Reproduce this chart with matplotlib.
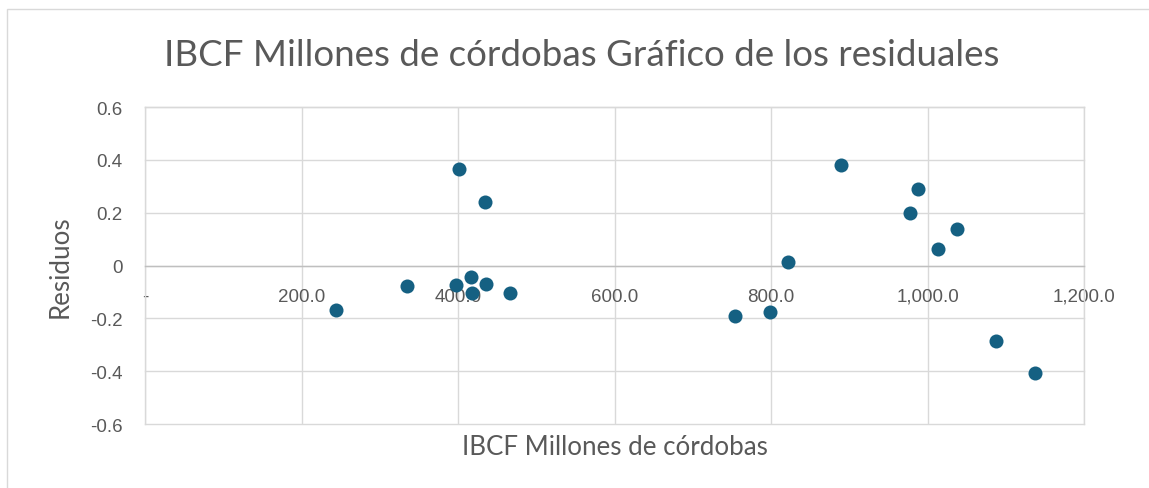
import matplotlib
matplotlib.use("Agg")
import matplotlib.pyplot as plt
from matplotlib.patches import Rectangle

# Data
ibcf = [244.7, 334.9, 401.2, 397.4, 416.0, 417.3, 434.8, 436.4, 466.3,
        753.4, 798.4, 822.3, 889.9, 977.9, 987.6, 1013.6, 1037.9, 1087.6, 1137.4]
residuos = [-0.170, -0.079, 0.366, -0.072, -0.042, -0.103, 0.242, -0.071, -0.104,
            -0.192, -0.177, 0.015, 0.380, 0.199, 0.291, 0.062, 0.138, -0.287, -0.407]
x_ticks = [0, 200, 400, 600, 800, 1000, 1200]
x_ticklabels = ["-", "200.0", "400.0", "600.0", "800.0", "1,000.0", "1,200.0"]
y_ticks = [-0.6, -0.4, -0.2, 0, 0.2, 0.4, 0.6]
y_ticklabels = ["-0.6", "-0.4", "-0.2", "0", "0.2", "0.4", "0.6"]

title = "IBCF Millones de córdobas Gráfico de los residuales"
xlabel = "IBCF Millones de córdobas"
ylabel = "Residuos"

W, H = 1149, 489
fig = plt.figure(figsize=(W / 100, H / 100), dpi=100)
fig.patch.set_facecolor("white")

L, R, T, B = 145, 1084, 108, 425
ax = fig.add_axes([L / W, 1 - B / H, (R - L) / W, (B - T) / H])

grid_c = "#D9D9D9"
text_c = "#595959"
label_font = "Lato"
tick_font = "Liberation Sans"

ax.scatter(ibcf, residuos, s=102, color="#156082", zorder=3, linewidths=0)

ax.set_xlim(0, 1200)
ax.set_ylim(-0.6, 0.6)
ax.set_xticks(x_ticks)
ax.set_xticklabels(x_ticklabels)
ax.set_yticks(y_ticks)
ax.set_yticklabels(y_ticklabels)

ax.grid(True, color=grid_c, linewidth=1.0)
ax.set_axisbelow(True)
for gl in ax.xaxis.get_gridlines() + ax.yaxis.get_gridlines():
    gl.set_clip_on(False)

for s in ["top", "right", "left"]:
    ax.spines[s].set_color(grid_c)
    ax.spines[s].set_linewidth(1.0)
ax.spines["bottom"].set_position(("data", 0))
ax.spines["bottom"].set_color("#BFBFBF")
ax.spines["bottom"].set_linewidth(1.0)

ax.tick_params(axis="both", length=0, labelsize=13.5, labelcolor=text_c, pad=16)
for lab in ax.get_xticklabels() + ax.get_yticklabels():
    lab.set_fontfamily(tick_font)

fig.text(582 / W, 1 - 66 / H, title, ha="center", va="baseline",
         fontsize=26.5, color=text_c, family=label_font)
fig.text(615 / W, 1 - 455 / H, xlabel, ha="center", va="baseline",
         fontsize=18.6, color=text_c, family=label_font)
fig.text(60 / W, 1 - 267 / H, ylabel, ha="center", va="center", rotation=90,
         fontsize=18.6, color=text_c, family=label_font)

fig.patches.append(Rectangle((7 / W, -0.2), 1.5, 1.2 - 10 / H + 0.0,
                             transform=fig.transFigure, fill=False,
                             edgecolor=grid_c, linewidth=1.0))

fig.savefig("out.png", dpi=100, facecolor="white")
